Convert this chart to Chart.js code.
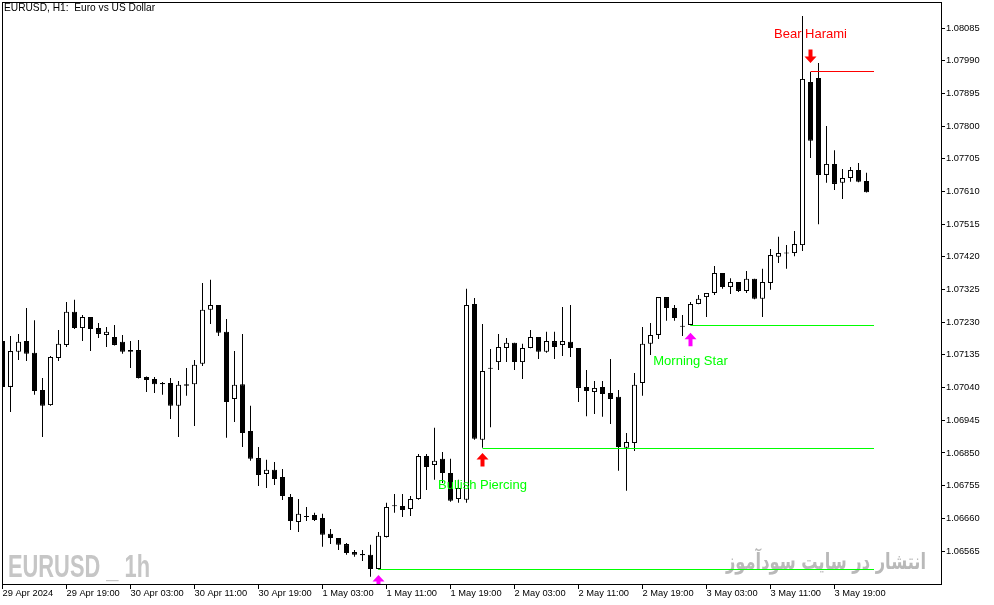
<!DOCTYPE html>
<html>
<head>
<meta charset="utf-8">
<title>EURUSD, H1</title>
<script src="https://cdn.jsdelivr.net/npm/chart.js@4.4.1/dist/chart.umd.min.js"></script>
<style>
  html, body { margin: 0; padding: 0; background: #fff; }
  #wrap { width: 994px; height: 605px; }
</style>
</head>
<body>
<div id="wrap"><canvas id="ChartCandles" width="994" height="605"></canvas></div>
<script>
(function () {
  "use strict";

  // EURUSD H1 bars, 29 Apr 2024 11:00 .. 3 May 2024 23:00
  const opens = [
    1.07175, 1.07042, 1.07144, 1.07175, 1.07141, 1.07033, 1.06989, 1.07126, 1.07164, 1.07260,
    1.07213, 1.07245, 1.07213, 1.07193, 1.07187, 1.07173, 1.07149, 1.07149, 1.07071, 1.07065,
    1.07053, 1.07053, 1.06987, 1.07045, 1.07050, 1.07109, 1.07266, 1.07280, 1.07202, 1.07007,
    1.07050, 1.06914, 1.06835, 1.06789, 1.06801, 1.06780, 1.06722, 1.06649, 1.06667, 1.06670,
    1.06661, 1.06615, 1.06603, 1.06585, 1.06562, 1.06556, 1.06554, 1.06513, 1.06606, 1.06697,
    1.06696, 1.06687, 1.06716, 1.06841, 1.06815, 1.06833, 1.06792, 1.06716, 1.06714, 1.07283,
    1.06888, 1.07097, 1.07114, 1.07155, 1.07170, 1.07114, 1.07155, 1.07187, 1.07144, 1.07175,
    1.07164, 1.07173, 1.07155, 1.07042, 1.07027, 1.07042, 1.07024, 1.07013, 1.06865, 1.06879,
    1.07053, 1.07167, 1.07193, 1.07303, 1.07271, 1.07219, 1.07222, 1.07283, 1.07303, 1.07315,
    1.07373, 1.07332, 1.07347, 1.07321, 1.07356, 1.07298, 1.07344, 1.07420, 1.07431, 1.07431,
    1.07454, 1.07928, 1.07940, 1.07658, 1.07690, 1.07635, 1.07649, 1.07672, 1.07640
  ];
  const highs = [
    1.07193, 1.07190, 1.07196, 1.07271, 1.07236, 1.07068, 1.07132, 1.07207, 1.07289, 1.07295,
    1.07251, 1.07245, 1.07228, 1.07216, 1.07222, 1.07193, 1.07175, 1.07178, 1.07072, 1.07071,
    1.07056, 1.07068, 1.07059, 1.07097, 1.07120, 1.07344, 1.07353, 1.07280, 1.07239, 1.07146,
    1.07196, 1.06987, 1.06867, 1.06830, 1.06824, 1.06803, 1.06731, 1.06716, 1.06693, 1.06676,
    1.06673, 1.06629, 1.06603, 1.06588, 1.06568, 1.06568, 1.06583, 1.06620, 1.06705, 1.06731,
    1.06731, 1.06725, 1.06847, 1.06847, 1.06923, 1.06853, 1.06833, 1.06772, 1.07327, 1.07300,
    1.07225, 1.07152, 1.07196, 1.07184, 1.07170, 1.07167, 1.07207, 1.07187, 1.07202, 1.07202,
    1.07274, 1.07280, 1.07155, 1.07091, 1.07059, 1.07059, 1.07123, 1.07033, 1.06908, 1.07082,
    1.07216, 1.07228, 1.07303, 1.07303, 1.07280, 1.07251, 1.07289, 1.07309, 1.07315, 1.07393,
    1.07373, 1.07358, 1.07347, 1.07379, 1.07356, 1.07385, 1.07443, 1.07478, 1.07454, 1.07495,
    1.08120, 1.07957, 1.07983, 1.07800, 1.07730, 1.07675, 1.07681, 1.07693, 1.07664
  ];
  const lows = [
    1.07027, 1.06969, 1.07120, 1.07117, 1.07019, 1.06896, 1.06987, 1.07117, 1.07158, 1.07210,
    1.07175, 1.07146, 1.07184, 1.07158, 1.07162, 1.07138, 1.07097, 1.07066, 1.07027, 1.07024,
    1.07019, 1.06949, 1.06896, 1.07016, 1.06928, 1.07103, 1.07225, 1.07190, 1.06894, 1.06940,
    1.06867, 1.06827, 1.06754, 1.06748, 1.06757, 1.06713, 1.06626, 1.06620, 1.06652, 1.06652,
    1.06577, 1.06585, 1.06568, 1.06554, 1.06548, 1.06536, 1.06490, 1.06511, 1.06604, 1.06676,
    1.06664, 1.06667, 1.06714, 1.06742, 1.06772, 1.06763, 1.06708, 1.06705, 1.06705, 1.06888,
    1.06865, 1.06925, 1.07091, 1.07114, 1.07091, 1.07065, 1.07154, 1.07123, 1.07141, 1.07123,
    1.07132, 1.07129, 1.06998, 1.06957, 1.06963, 1.06955, 1.06934, 1.06798, 1.06740, 1.06856,
    1.07016, 1.07135, 1.07181, 1.07234, 1.07234, 1.07190, 1.07221, 1.07282, 1.07245, 1.07309,
    1.07327, 1.07312, 1.07318, 1.07315, 1.07297, 1.07245, 1.07324, 1.07402, 1.07385, 1.07422,
    1.07437, 1.07707, 1.07515, 1.07635, 1.07614, 1.07588, 1.07638, 1.07637, 1.07607
  ];
  const closes = [
    1.07042, 1.07146, 1.07173, 1.07138, 1.07030, 1.06987, 1.07129, 1.07167, 1.07260, 1.07213,
    1.07245, 1.07210, 1.07196, 1.07202, 1.07164, 1.07144, 1.07144, 1.07068, 1.07062, 1.07050,
    1.07050, 1.06987, 1.07048, 1.07050, 1.07106, 1.07266, 1.07280, 1.07199, 1.06998, 1.07048,
    1.06908, 1.06833, 1.06786, 1.06801, 1.06774, 1.06725, 1.06652, 1.06673, 1.06664, 1.06655,
    1.06612, 1.06603, 1.06583, 1.06559, 1.06554, 1.06553, 1.06513, 1.06609, 1.06693, 1.06695,
    1.06684, 1.06716, 1.06841, 1.06809, 1.06827, 1.06792, 1.06711, 1.06748, 1.07280, 1.06891,
    1.07088, 1.07095, 1.07158, 1.07170, 1.07114, 1.07155, 1.07187, 1.07144, 1.07175, 1.07158,
    1.07175, 1.07155, 1.07039, 1.07030, 1.07039, 1.07021, 1.07007, 1.06867, 1.06882, 1.07048,
    1.07167, 1.07193, 1.07303, 1.07271, 1.07242, 1.07217, 1.07283, 1.07298, 1.07315, 1.07373,
    1.07332, 1.07347, 1.07321, 1.07356, 1.07298, 1.07347, 1.07425, 1.07431, 1.07430, 1.07457,
    1.07937, 1.07757, 1.07658, 1.07690, 1.07632, 1.07649, 1.07672, 1.07638, 1.07608
  ];

  // Time axis: a label every 8 bars
  const timeTickBars = [0, 8, 16, 24, 32, 40, 48, 56, 64, 72, 80, 88, 96, 104];
  const timeLabels = [
    '29 Apr 2024', '29 Apr 19:00', '30 Apr 03:00', '30 Apr 11:00', '30 Apr 19:00',
    '1 May 03:00', '1 May 11:00', '1 May 19:00', '2 May 03:00', '2 May 11:00',
    '2 May 19:00', '3 May 03:00', '3 May 11:00', '3 May 19:00'
  ];

  // Price axis
  const priceTicks = [
    1.06565, 1.06660, 1.06755, 1.06850, 1.06945, 1.07040, 1.07135, 1.07230, 1.07325,
    1.07420, 1.07515, 1.07610, 1.07705, 1.07800, 1.07895, 1.07990, 1.08085
  ];
  const priceMin = 1.064691;
  const priceMax = 1.081606;

  // Candle pattern labels
  const patternNames  = ['Bear Harami', 'Bullish Piercing', 'Morning Star'];
  const patternBars   = [101, 60, 86];
  const patternPrices = [1.08066, 1.06757, 1.07116];
  const patternColors = ['#ff0000', '#00ff00', '#00ff00'];

  // Signal arrows (price = arrow tip)
  const arrowBars   = [101, 60, 86, 47];
  const arrowPrices = [1.07983, 1.06850, 1.07199, 1.06495];
  const arrowDirs   = ['down', 'up', 'up', 'up'];
  const arrowColors = ['#ff0000', '#ff0000', '#ff00ff', '#ff00ff'];

  // Level lines drawn from the signal bar to the last bar
  const levelBars   = [101, 86, 60, 47];
  const levelPrices = [1.07959, 1.07222, 1.06865, 1.06513];
  const levelColors = ['#ff0000', '#00ff00', '#00ff00', '#00ff00'];
  const levelEnd    = 108.94;

  const axisFont = { family: '"Liberation Sans", Arial, sans-serif', size: 9.3 };

  function drawArrow(ctx, x, tipY, dir, color) {
    const s = dir === 'up' ? 1 : -1;
    ctx.beginPath();
    ctx.moveTo(x, tipY);
    ctx.lineTo(x + 6, tipY + s * 6.5);
    ctx.lineTo(x + 2, tipY + s * 6.5);
    ctx.lineTo(x + 2, tipY + s * 13.5);
    ctx.lineTo(x - 2, tipY + s * 13.5);
    ctx.lineTo(x - 2, tipY + s * 6.5);
    ctx.lineTo(x - 6, tipY + s * 6.5);
    ctx.closePath();
    ctx.fillStyle = color;
    ctx.fill();
  }

  function squeezeText(ctx, text, x, y, width) {
    const w = ctx.measureText(text).width;
    ctx.save();
    ctx.translate(x, y);
    ctx.scale(width / w, 1);
    ctx.fillText(text, 0, 0);
    ctx.restore();
  }

  // Watermarks behind the bars
  const watermarkPlugin = {
    id: 'watermark',
    beforeDatasetsDraw(chart) {
      const ctx = chart.ctx;
      ctx.save();
      ctx.textBaseline = 'alphabetic';
      ctx.textAlign = 'left';
      ctx.fillStyle = '#c6c6c6';
      ctx.font = 'bold 32px "Liberation Sans", Arial, sans-serif';
      squeezeText(ctx, 'EURUSD _ 1h', 8, 576.5, 142);
      ctx.fillStyle = '#b9b9b9';
      ctx.font = 'bold 22px "DejaVu Sans", sans-serif';
      squeezeText(ctx, 'انتشار در سایت سودآموز', 726, 569, 200);
      ctx.restore();
    }
  };

  // Level lines, pattern names and arrows over the bars
  const markerPlugin = {
    id: 'markers',
    afterDatasetsDraw(chart) {
      const ctx = chart.ctx;
      const xs = chart.scales.x;
      const ys = chart.scales.y;
      const a = chart.chartArea;
      ctx.save();
      ctx.beginPath();
      ctx.rect(a.left, a.top, a.right - a.left, a.bottom - a.top);
      ctx.clip();
      ctx.lineWidth = 1;
      levelBars.forEach(function (b, k) {
        const y = Math.round(ys.getPixelForValue(levelPrices[k])) + 0.5;
        ctx.strokeStyle = levelColors[k];
        ctx.beginPath();
        ctx.moveTo(xs.getPixelForValue(b), y);
        ctx.lineTo(xs.getPixelForValue(levelEnd), y);
        ctx.stroke();
      });
      arrowBars.forEach(function (b, k) {
        drawArrow(ctx, xs.getPixelForValue(b), ys.getPixelForValue(arrowPrices[k]), arrowDirs[k], arrowColors[k]);
      });
      ctx.font = '13px "Liberation Sans", Arial, sans-serif';
      ctx.textAlign = 'center';
      ctx.textBaseline = 'middle';
      patternNames.forEach(function (name, k) {
        ctx.fillStyle = patternColors[k];
        ctx.fillText(name, xs.getPixelForValue(patternBars[k]), ys.getPixelForValue(patternPrices[k]));
      });
      ctx.restore();
    },
    afterDraw(chart) {
      const ctx = chart.ctx;
      const a = chart.chartArea;
      ctx.save();
      ctx.strokeStyle = '#000';
      ctx.lineWidth = 1;
      ctx.strokeRect(a.left + 0.5, a.top + 0.5, a.right - a.left, a.bottom - a.top);
      ctx.fillStyle = '#000';
      ctx.font = '10.2px "Liberation Sans", Arial, sans-serif';
      ctx.textAlign = 'left';
      ctx.textBaseline = 'alphabetic';
      ctx.fillText('EURUSD, H1:  Euro vs US Dollar', 4, 11);
      ctx.restore();
    }
  };

  const chart_candles = document.getElementById('ChartCandles');
  if (chart_candles != null) {
    const ctc = chart_candles.getContext('2d');
    new Chart(ctc, {
      type: 'bar',
      data: {
        datasets: [
          {
            label: 'Body',
            data: opens.map((o, i) => ({ x: i, y: [o, closes[i]] })),
            backgroundColor: opens.map((o, i) => closes[i] > o ? '#ffffff' : '#000000'),
            borderColor: '#000000',
            borderWidth: 1,
            borderSkipped: false,
            barThickness: 5,
            minBarLength: 1,
            inflateAmount: 0,
            grouped: false
          },
          {
            label: 'Wick',
            data: lows.map((l, i) => ({ x: i, y: [l, highs[i]] })),
            backgroundColor: '#000000',
            borderWidth: 0,
            barThickness: 1,
            inflateAmount: 0,
            grouped: false
          }
        ]
      },
      options: {
        responsive: false,
        animation: false,
        layout: { padding: { left: 2, top: 2, right: 0, bottom: 0 } },
        scales: {
          x: {
            type: 'linear',
            position: 'bottom',
            min: -0.0625,
            max: 117.3125,
            offset: false,
            bounds: 'data',
            afterBuildTicks: (s) => { s.ticks = timeTickBars.map(v => ({ value: v })); },
            afterFit: (s) => { s.height = 21; s.paddingLeft = 0; s.paddingRight = 0; },
            ticks: {
              autoSkip: false,
              maxRotation: 0,
              align: 'start',
              padding: -1,
              color: '#000',
              font: axisFont,
              callback: (v) => timeLabels[timeTickBars.indexOf(v)]
            },
            grid: { drawOnChartArea: false, drawTicks: true, tickLength: 5, color: '#000', offset: false },
            border: { display: false }
          },
          y: {
            type: 'linear',
            position: 'right',
            min: priceMin,
            max: priceMax,
            beginAtZero: false,
            bounds: 'data',
            afterBuildTicks: (s) => { s.ticks = priceTicks.map(v => ({ value: v })); },
            afterFit: (s) => { s.width = 53; s.paddingTop = 0; s.paddingBottom = 0; },
            ticks: {
              autoSkip: false,
              padding: 1,
              color: '#000',
              font: axisFont,
              callback: (v) => v.toFixed(5)
            },
            grid: { drawOnChartArea: false, drawTicks: true, tickLength: 4, color: '#000' },
            border: { display: false }
          }
        },
        plugins: {
          legend: { display: false },
          tooltip: { enabled: false }
        }
      },
      plugins: [watermarkPlugin, markerPlugin]
    });
  }
})();
</script>
</body>
</html>
